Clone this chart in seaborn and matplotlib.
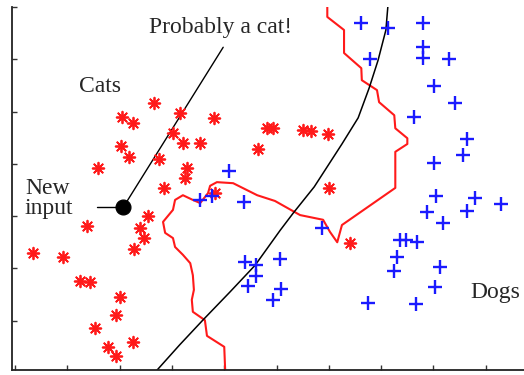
import numpy as np
import pandas as pd
import matplotlib
matplotlib.use("Agg")
import matplotlib.pyplot as plt
import seaborn as sns

# ---- data (feature space, tick spacing = 1 unit) ----
cats_x = [2.66, 3.15, 3.80, 2.05, 2.26, 3.02, 3.21, 3.54, 2.03, 2.18, 2.75, 3.29, 3.25,
          1.59, 4.65, 2.85, 3.82, 4.82, 4.93, 5.51, 5.66, 5.98, 6.00, 6.41, 2.54, 1.38,
          2.39, 2.47, 2.28, 0.34, 0.92, 1.24, 1.43, 2.01, 1.93, 1.53, 2.26, 1.78, 1.93]
cats_y = [5.16, 4.97, 4.88, 4.89, 4.78, 4.59, 4.40, 4.40, 4.34, 4.13, 4.09, 3.92, 3.73,
          3.92, 4.28, 3.54, 3.44, 4.68, 4.68, 4.65, 4.63, 4.57, 3.54, 2.49, 3.00, 2.81,
          2.77, 2.58, 2.37, 2.29, 2.22, 1.76, 1.74, 1.45, 1.11, 0.86, 0.59, 0.50, 0.33]

dogs_x = [6.62, 7.13, 7.80, 6.79, 7.80, 7.80, 8.30, 8.01, 8.41, 7.63, 8.64, 8.57, 8.01,
          8.05, 8.80, 9.29, 7.88, 8.64, 8.18, 7.36, 7.48, 7.69, 7.30, 7.25, 8.13, 8.03,
          6.75, 7.67, 4.09, 3.54, 3.77, 4.38, 5.87, 4.40, 4.61, 4.61, 4.46, 5.07, 5.09, 4.93]
dogs_y = [6.69, 6.60, 6.69, 6.00, 6.23, 6.02, 6.00, 5.49, 5.16, 4.89, 4.47, 4.17, 4.02,
          3.38, 3.35, 3.23, 3.08, 3.10, 2.87, 2.54, 2.54, 2.50, 2.22, 1.95, 2.03, 1.64,
          1.34, 1.32, 3.86, 3.31, 3.38, 3.27, 2.77, 2.12, 2.06, 1.85, 1.66, 2.18, 1.61, 1.40]

smooth_x = [7.13, 7.09, 6.94, 6.77, 6.56, 6.25, 5.72, 5.32, 5.07, 4.59, 4.11, 3.59, 3.15, 2.72, 2.60]
smooth_y = [7.04, 6.56, 5.98, 5.45, 4.88, 4.38, 3.56, 3.06, 2.73, 2.06, 1.55, 1.01, 0.54, 0.06, -0.08]

jagged_x = [5.97, 5.97, 6.29, 6.29, 6.62, 6.63, 6.92, 6.96, 7.25, 7.27, 7.50, 7.50, 7.27,
            7.27, 6.25, 6.16, 6.02, 5.89, 5.45, 4.97, 4.63, 4.17, 3.86, 3.73, 3.69, 3.54,
            3.40, 3.21, 3.06, 3.02, 2.83, 2.87, 3.02, 3.06, 3.21, 3.35, 3.40, 3.42, 3.38,
            3.40, 3.63, 3.67, 4.00, 4.02]
jagged_y = [7.04, 6.81, 6.56, 6.12, 5.83, 5.60, 5.41, 5.18, 4.93, 4.68, 4.49, 4.38, 4.23,
            3.54, 2.83, 2.50, 2.70, 2.93, 3.02, 3.29, 3.40, 3.63, 3.65, 3.58, 3.44, 3.25,
            3.31, 3.40, 3.31, 3.12, 2.89, 2.68, 2.58, 2.41, 2.26, 2.10, 1.87, 1.59, 1.40,
            1.17, 1.01, 0.71, 0.50, 0.00]

new_input = (2.07, 3.17)
new_input_label_end = 1.57
cat_label_line_end = (3.98, 6.23)

texts = ["Probably a cat!", "Cats", "New\ninput", "Dogs"]

# ---- figure ----
sns.set_style("ticks")
plt.rcParams["font.family"] = ["Liberation Serif", "DejaVu Serif"]

fig = plt.figure(figsize=(5.24, 3.75), dpi=100)
ax = fig.add_axes([12 / 524, 5 / 375, 1 - 12 / 524, 363 / 375])

red = "#ff1a1a"
blue = "#1a1aff"

sns.lineplot(x=jagged_x, y=jagged_y, sort=False, estimator=None, color=red,
             linewidth=1.5, ax=ax)
sns.lineplot(x=smooth_x, y=smooth_y, sort=False, estimator=None, color="black",
             linewidth=1.1, ax=ax)

sns.scatterplot(x=cats_x, y=cats_y, marker=(8, 2, 0), s=70, color=red,
                edgecolor=red, linewidth=1.3, ax=ax, zorder=3)
sns.scatterplot(x=dogs_x, y=dogs_y, marker="+", s=95, color=blue,
                linewidth=1.7, ax=ax, zorder=3)

# annotation lines
sns.lineplot(x=[new_input[0], cat_label_line_end[0]], y=[new_input[1], cat_label_line_end[1]],
             sort=False, estimator=None, color="black", linewidth=1.0, ax=ax)
sns.lineplot(x=[new_input_label_end, new_input[0]], y=[new_input[1], new_input[1]],
             sort=False, estimator=None, color="black", linewidth=1.0, ax=ax)
sns.scatterplot(x=[new_input[0]], y=[new_input[1]], s=115, color="black",
                edgecolor="black", ax=ax, zorder=4)

fs = 17
ax.text(3.92, 6.50, texts[0], ha="center", va="baseline", fontsize=fs)
ax.text(1.63, 5.37, texts[1], ha="center", va="baseline", fontsize=fs)
ax.text(0.19, 3.33, texts[2], ha="left", va="center", fontsize=fs, linespacing=0.95)
ax.text(8.70, 1.43, texts[3], ha="left", va="baseline", fontsize=fs)

ax.set_xlim(-0.057, 9.73)
ax.set_ylim(0.057, 7.0)
ax.set_xticks(range(0, 10))
ax.set_yticks(range(1, 8))
ax.set_xticklabels([])
ax.set_yticklabels([])
ax.tick_params(direction="in", length=3.5, width=1.0, color="#333333")
for s in ["top", "right"]:
    ax.spines[s].set_visible(False)
for s in ["left", "bottom"]:
    ax.spines[s].set_linewidth(1.3)
    ax.spines[s].set_color("#222222")
ax.set_xlabel("")
ax.set_ylabel("")

fig.savefig("out.png", dpi=100)
